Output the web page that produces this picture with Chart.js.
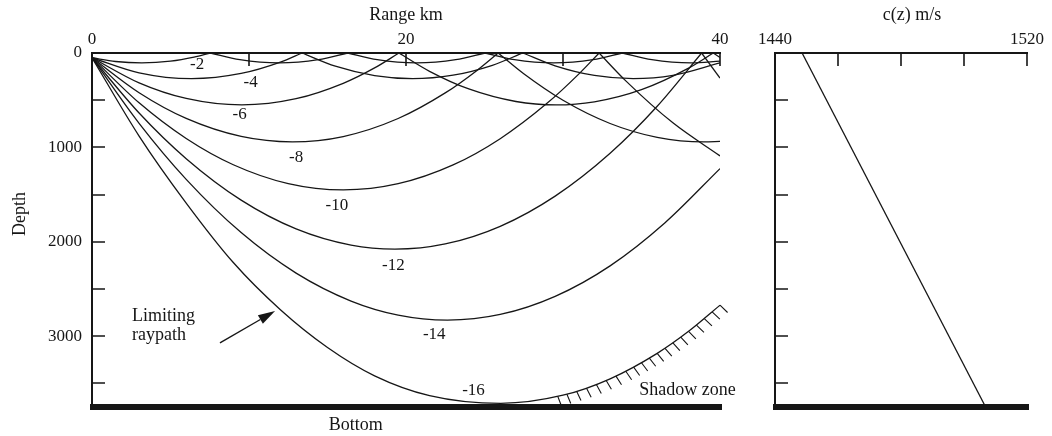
<!DOCTYPE html>
<html>
<head>
<meta charset="utf-8">
<title>Ray paths in a linear sound speed gradient</title>
<script src="https://cdn.jsdelivr.net/npm/chart.js@4.4.1/dist/chart.umd.min.js"></script>
<style>
  body { margin: 0; background: #fff; }
  #wrap { position: relative; width: 1052px; height: 436px; }
  canvas { position: absolute; top: 0; }
  #rays { left: 0; }
  #speed { left: 745px; }
</style>
</head>
<body>
<div id="wrap">
  <canvas id="rays" width="745" height="436"></canvas>
  <canvas id="speed" width="307" height="436"></canvas>
</div>
<script>
// launch angles (degrees) and the traced rays, [range km, depth m]
// a depth of 0 inside a ray is a surface reflection
const launchAngles = [-2, -4, -6, -8, -10, -12, -14, -16];

const ray2 = [[0, 50], [1.5, 90], [3.17, 105], [5, 87], [6.5, 44], [7.54, 0],
  [9.42, 71], [11.92, 105], [14.42, 71], [16.29, 0],
  [18.17, 71], [20.67, 105], [23.17, 71], [25.04, 0],
  [26.91, 71], [29.41, 105], [31.91, 71], [33.78, 0],
  [35.66, 71], [38.16, 105], [40, 86]];
const ray4 = [[0, 50], [3, 210], [6.35, 272], [9.5, 217], [12, 97], [13.38, 0],
  [15.5, 140], [18, 240], [20.41, 272], [23, 235], [25.5, 130], [27.44, 0],
  [29.5, 136], [32, 238], [34.47, 272], [37, 237], [40, 104]];
const ray6 = [[0, 50], [3, 316], [6, 481], [9.54, 550], [13, 484], [16, 321], [18, 158], [19.55, 0],
  [21.5, 194], [24, 381], [27, 514], [29.56, 550], [32, 517], [35, 388], [38, 160], [39.57, 0],
  [40, 47]];
const ray8 = [[0, 50], [3, 421], [6, 693], [9.5, 884], [12.76, 942], [16, 885], [19.5, 694],
  [22.5, 423], [24.5, 187], [25.87, 0],
  [27.5, 220], [30, 501], [33, 747], [36, 894], [38.98, 942], [40, 936]];
const ray10 = [[0, 50], [3, 528], [6, 906], [9, 1184], [12.5, 1384], [16.01, 1451], [19.5, 1385],
  [23, 1186], [26, 908], [29, 531], [31, 224], [32.3, 0],
  [34, 295], [37, 740], [40, 1090]];
const ray12 = [[0, 50], [3, 636], [6, 1120], [9.5, 1559], [13, 1864], [16.5, 2036], [19.3, 2078],
  [22.5, 2023], [26, 1836], [29.5, 1516], [33, 1062], [36, 564], [38.83, 0],
  [40, 265]];
const ray14 = [[0, 50], [3, 746], [6, 1339], [9.5, 1903], [13, 2332], [16.5, 2628], [19.5, 2777],
  [22.64, 2830], [26, 2770], [29.5, 2578], [33, 2255], [36.5, 1798], [40, 1225]];
const ray16 = [[0, 50], [3, 880], [6, 1590], [9, 2220], [12, 2720], [15, 3120], [18, 3420],
  [21.5, 3630], [26.04, 3712], [30, 3626], [33, 3452], [36, 3182], [38, 2949], [40, 2672]];

const rays = [ray2, ray4, ray6, ray8, ray10, ray12, ray14, ray16];

// angle label anchors (range km, depth m)
const labelRange = [6.7, 10.1, 9.4, 13.0, 15.6, 19.2, 21.8, 24.3];
const labelDepth = [127, 318, 657, 1112, 1621, 2256, 2987, 3580];

const bottomDepth = 3740;
const shadowFrom = 29.6; // km, where the hatched shadow boundary begins

// sound speed profile c(z)
const profileDepth = [0, 3740];
const profileSpeed = [1448.6, 1506.7];

// axes
const rangeTicks = [0, 10, 20, 30, 40];
const rangeLabels = [0, 20, 40];
const depthTicks = [0, 500, 1000, 1500, 2000, 2500, 3000, 3500];
const depthLabels = [0, 1000, 2000, 3000];
const speedTicks = [1440, 1460, 1480, 1500, 1520];
const speedLabels = [1440, 1520];

const ink = '#161616';
const serif = '"Liberation Serif", "Times New Roman", serif';
const tickLen = 13;

Chart.defaults.font.family = serif;
Chart.defaults.font.size = 17;
Chart.defaults.color = ink;

// split a ray into its arcs at the surface bounces
function splitArcs(points) {
  const arcs = [[]];
  points.forEach((p, i) => {
    arcs[arcs.length - 1].push({ x: p[0], y: p[1] });
    if (p[1] === 0 && i > 0 && i < points.length - 1) arcs.push([{ x: p[0], y: p[1] }]);
  });
  return arcs;
}

const rayDatasets = [];
rays.forEach((pts, k) => {
  splitArcs(pts).forEach(arc => {
    rayDatasets.push({ data: arc, angle: launchAngles[k] });
  });
});

// tick marks drawn inside the frame
const inwardTicks = {
  id: 'inwardTicks',
  afterDatasetsDraw(chart) {
    const { ctx, chartArea: a, scales: { x, y } } = chart;
    ctx.save();
    ctx.strokeStyle = ink;
    ctx.lineWidth = 1.6;
    ctx.beginPath();
    x.ticks.forEach(t => {
      const px = Math.round(x.getPixelForValue(t.value));
      if (px < a.left + 2) return;
      ctx.moveTo(px, a.top);
      ctx.lineTo(px, a.top + tickLen);
    });
    y.ticks.forEach(t => {
      const py = Math.round(y.getPixelForValue(t.value));
      if (py < a.top + 2) return;
      ctx.moveTo(a.left, py);
      ctx.lineTo(a.left + tickLen, py);
    });
    ctx.stroke();
    ctx.restore();
  }
};

function drawBottom(chart) {
  const { ctx, chartArea: a, scales: { y } } = chart;
  const py = y.getPixelForValue(bottomDepth);
  ctx.fillStyle = ink;
  ctx.fillRect(a.left - 2, py - 2, a.right - a.left + 4, 6);
}

// points along the drawn bezier of a dataset
function sampleCurve(meta) {
  const pts = meta.data;
  const out = [];
  for (let i = 0; i < pts.length - 1; i++) {
    const a = pts[i], b = pts[i + 1];
    for (let s = 0; s < 24; s++) {
      const t = s / 24, m = 1 - t;
      out.push({
        x: m * m * m * a.x + 3 * m * m * t * a.cp2x + 3 * m * t * t * b.cp1x + t * t * t * b.x,
        y: m * m * m * a.y + 3 * m * m * t * a.cp2y + 3 * m * t * t * b.cp1y + t * t * t * b.y
      });
    }
  }
  const last = pts[pts.length - 1];
  out.push({ x: last.x, y: last.y });
  return out;
}

const rayNotes = {
  id: 'rayNotes',
  afterDatasetsDraw(chart) {
    const { ctx, scales: { x, y } } = chart;
    ctx.save();
    drawBottom(chart);

    // angle labels
    ctx.fillStyle = ink;
    ctx.font = '17px ' + serif;
    ctx.textAlign = 'center';
    ctx.textBaseline = 'middle';
    launchAngles.forEach((ang, i) => {
      ctx.fillText(String(ang), x.getPixelForValue(labelRange[i]), y.getPixelForValue(labelDepth[i]));
    });

    ctx.font = '18px ' + serif;
    ctx.textAlign = 'left';
    ctx.fillText('Limiting', x.getPixelForValue(2.55), y.getPixelForValue(2786));
    ctx.fillText('raypath', x.getPixelForValue(2.55), y.getPixelForValue(2987));
    ctx.fillText('Shadow zone', x.getPixelForValue(34.85), y.getPixelForValue(3570));
    ctx.textAlign = 'center';
    ctx.fillText('Bottom', x.getPixelForValue(16.8), y.getPixelForValue(bottomDepth) + 19);

    // depth axis title
    ctx.save();
    ctx.translate(20, 214);
    ctx.rotate(-Math.PI / 2);
    ctx.fillText('Depth', 0, 0);
    ctx.restore();

    // arrow onto the limiting ray
    const x0 = x.getPixelForValue(8.15), y0 = y.getPixelForValue(3072);
    const x1 = x.getPixelForValue(11.66), y1 = y.getPixelForValue(2733);
    const ang = Math.atan2(y1 - y0, x1 - x0);
    const hl = 17, hw = 5;
    ctx.strokeStyle = ink;
    ctx.lineWidth = 1.4;
    ctx.beginPath();
    ctx.moveTo(x0, y0);
    ctx.lineTo(x1 - hl * Math.cos(ang), y1 - hl * Math.sin(ang));
    ctx.stroke();
    ctx.beginPath();
    ctx.moveTo(x1, y1);
    ctx.lineTo(x1 - hl * Math.cos(ang) + hw * Math.sin(ang), y1 - hl * Math.sin(ang) - hw * Math.cos(ang));
    ctx.lineTo(x1 - hl * Math.cos(ang) - hw * Math.sin(ang), y1 - hl * Math.sin(ang) + hw * Math.cos(ang));
    ctx.closePath();
    ctx.fill();

    // hatching under the limiting ray marks the shadow zone
    const idx = chart.data.datasets.findIndex(d => d.angle === -16);
    const curve = sampleCurve(chart.getDatasetMeta(idx));
    const startPx = x.getPixelForValue(shadowFrom);
    const step = 8.8, len = 9.5;
    let acc = step;
    ctx.lineWidth = 1.1;
    ctx.beginPath();
    for (let i = 1; i < curve.length; i++) {
      const p = curve[i - 1], q = curve[i];
      if (q.x < startPx) continue;
      const dx = q.x - p.x, dy = q.y - p.y;
      const d = Math.hypot(dx, dy);
      acc += d;
      if (acc >= step) {
        acc = 0;
        const nx = -dy / d, ny = dx / d;
        ctx.moveTo(q.x, q.y);
        ctx.lineTo(q.x + nx * len + 1.5, q.y + ny * len);
      }
    }
    ctx.stroke();
    ctx.restore();
  }
};

new Chart(document.getElementById('rays'), {
  type: 'line',
  data: { datasets: rayDatasets },
  options: {
    responsive: false,
    animation: false,
    layout: { padding: { left: 0, top: 0, right: 25, bottom: 30 } },
    plugins: { legend: { display: false }, tooltip: { enabled: false } },
    elements: {
      point: { radius: 0 },
      line: { borderWidth: 1.3, borderColor: ink, cubicInterpolationMode: 'monotone', fill: false }
    },
    scales: {
      x: {
        type: 'linear', position: 'top', min: 0, max: 40,
        afterBuildTicks: s => { s.ticks = rangeTicks.map(v => ({ value: v })); },
        afterFit: s => { s.height = 53; },
        grid: { display: false, drawTicks: false },
        border: { display: true, color: ink, width: 2 },
        ticks: {
          padding: 3, autoSkip: false, maxRotation: 0,
          callback: v => rangeLabels.includes(v) ? String(v) : ''
        },
        title: { display: true, text: 'Range km', font: { size: 18 }, padding: { top: 4, bottom: 0 } }
      },
      y: {
        type: 'linear', position: 'left', reverse: true, min: 0, max: bottomDepth,
        afterBuildTicks: s => { s.ticks = depthTicks.map(v => ({ value: v })); },
        afterFit: s => { s.width = 92; },
        grid: { display: false, drawTicks: false },
        border: { display: true, color: ink, width: 2 },
        ticks: {
          padding: 10, autoSkip: false,
          callback: v => depthLabels.includes(v) ? String(v) : ''
        }
      }
    }
  },
  plugins: [inwardTicks, rayNotes]
});

const speedNotes = {
  id: 'speedNotes',
  afterDatasetsDraw(chart) {
    const { ctx, scales: { x } } = chart;
    ctx.save();
    drawBottom(chart);
    ctx.fillStyle = ink;
    ctx.font = '18px ' + serif;
    ctx.textAlign = 'center';
    ctx.textBaseline = 'middle';
    ctx.fillText('c(z) m/s', x.getPixelForValue(1483.5), 15);
    ctx.restore();
  }
};

new Chart(document.getElementById('speed'), {
  type: 'line',
  data: {
    datasets: [{
      data: profileDepth.map((z, i) => ({ x: profileSpeed[i], y: z }))
    }]
  },
  options: {
    responsive: false,
    animation: false,
    layout: { padding: { left: 0, top: 0, right: 25, bottom: 30 } },
    plugins: { legend: { display: false }, tooltip: { enabled: false } },
    elements: {
      point: { radius: 0 },
      line: { borderWidth: 1.3, borderColor: ink, fill: false }
    },
    scales: {
      x: {
        type: 'linear', position: 'top', min: 1440, max: 1520,
        afterBuildTicks: s => { s.ticks = speedTicks.map(v => ({ value: v })); },
        afterFit: s => { s.height = 53; },
        grid: { display: false, drawTicks: false },
        border: { display: true, color: ink, width: 2 },
        ticks: {
          padding: 3, autoSkip: false, maxRotation: 0,
          callback: v => speedLabels.includes(v) ? String(v) : ''
        }
      },
      y: {
        type: 'linear', position: 'left', reverse: true, min: 0, max: bottomDepth,
        afterBuildTicks: s => { s.ticks = depthTicks.map(v => ({ value: v })); },
        afterFit: s => { s.width = 30; },
        grid: { display: false, drawTicks: false },
        border: { display: true, color: ink, width: 2 },
        ticks: { display: false }
      }
    }
  },
  plugins: [inwardTicks, speedNotes]
});
</script>
</body>
</html>
